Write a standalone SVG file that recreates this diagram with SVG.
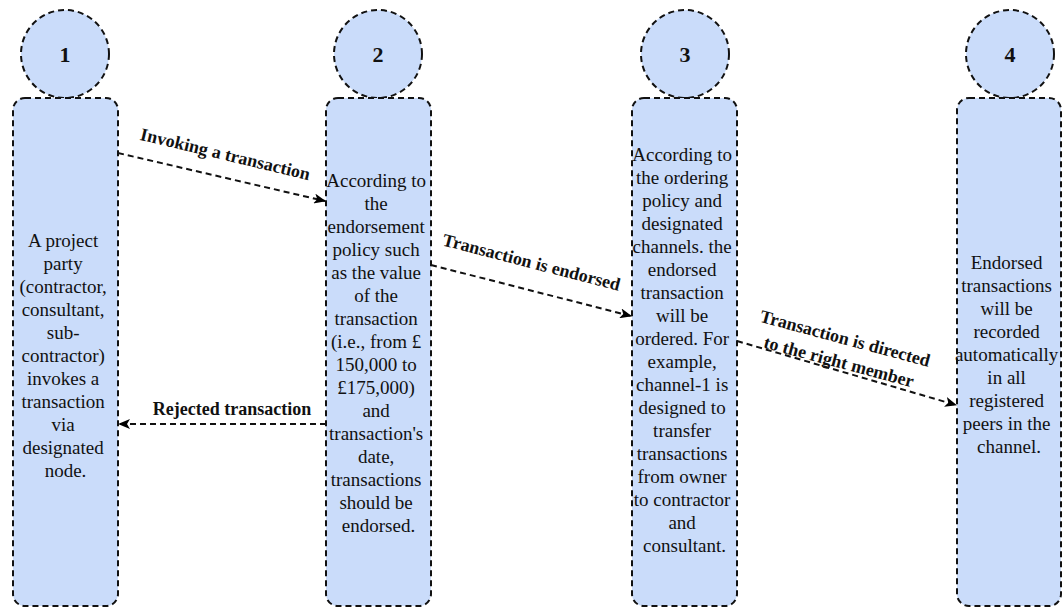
<svg xmlns="http://www.w3.org/2000/svg" width="1062" height="609" viewBox="0 0 1062 609">
  <defs>
    <marker id="arrow" viewBox="0 0 12 10" refX="11" refY="5" markerWidth="12" markerHeight="10" markerUnits="userSpaceOnUse" orient="auto">
      <path d="M0,0 L12,5 L0,10 L3,5 Z" fill="#000"/>
    </marker>
    <style>
      .head, .body { fill: #cadcfa; stroke: #111; stroke-width: 2; stroke-dasharray: 6 4; }
      .num { font-family: 'Liberation Serif', 'DejaVu Serif', serif; font-weight: bold; font-size: 22px; text-anchor: middle; fill: #111; }
      .txt { font-family: 'Liberation Serif', 'DejaVu Serif', serif; font-size: 19px; text-anchor: middle; fill: #111; }
      .edge { fill: none; stroke: #111; stroke-width: 2; stroke-dasharray: 6 4; }
      .lbl { font-family: 'Liberation Serif', 'DejaVu Serif', serif; font-weight: bold; font-size: 18px; text-anchor: middle; fill: #111; }
    </style>
  </defs>
  <rect width="1062" height="609" fill="#fff"/>

  <!-- Participant 1 -->
  <g id="node1">
    <circle class="head" cx="65" cy="54" r="44"/>
    <text class="num" x="65" y="62" font-family="Liberation Serif">1</text>
    <rect class="body" x="13" y="98" width="105" height="508" rx="12"/>
    <text class="txt" y="247" font-family="Liberation Serif">
      <tspan x="65.5">A project</tspan>
      <tspan x="65.5" dy="23">party</tspan>
      <tspan x="65.5" dy="23">(contractor,</tspan>
      <tspan x="65.5" dy="23">consultant,</tspan>
      <tspan x="65.5" dy="23">sub-</tspan>
      <tspan x="65.5" dy="23">contractor)</tspan>
      <tspan x="65.5" dy="23">invokes a</tspan>
      <tspan x="65.5" dy="23">transaction</tspan>
      <tspan x="65.5" dy="23">via</tspan>
      <tspan x="65.5" dy="23">designated</tspan>
      <tspan x="65.5" dy="23">node.</tspan>
    </text>
  </g>

  <!-- Participant 2 -->
  <g id="node2">
    <circle class="head" cx="378" cy="54" r="44"/>
    <text class="num" x="378" y="62">2</text>
    <rect class="body" x="326" y="98" width="105" height="508" rx="12"/>
    <text class="txt" y="187">
      <tspan x="378.5">According to</tspan>
      <tspan x="378.5" dy="23">the</tspan>
      <tspan x="378.5" dy="23">endorsement</tspan>
      <tspan x="378.5" dy="23">policy such</tspan>
      <tspan x="378.5" dy="23">as the value</tspan>
      <tspan x="378.5" dy="23">of the</tspan>
      <tspan x="378.5" dy="23">transaction</tspan>
      <tspan x="378.5" dy="23">(i.e., from £</tspan>
      <tspan x="378.5" dy="23">150,000 to</tspan>
      <tspan x="378.5" dy="23">£175,000)</tspan>
      <tspan x="378.5" dy="23">and</tspan>
      <tspan x="378.5" dy="23">transaction's</tspan>
      <tspan x="378.5" dy="23">date,</tspan>
      <tspan x="378.5" dy="23">transactions</tspan>
      <tspan x="378.5" dy="23">should be</tspan>
      <tspan x="378.5" dy="23">endorsed.</tspan>
    </text>
  </g>

  <!-- Participant 3 -->
  <g id="node3">
    <circle class="head" cx="685" cy="54" r="44"/>
    <text class="num" x="685" y="62">3</text>
    <rect class="body" x="632" y="98" width="105" height="508" rx="12"/>
    <text class="txt" y="161">
      <tspan x="684.5">According to</tspan>
      <tspan x="684.5" dy="23">the ordering</tspan>
      <tspan x="684.5" dy="23">policy and</tspan>
      <tspan x="684.5" dy="23">designated</tspan>
      <tspan x="684.5" dy="23">channels. the</tspan>
      <tspan x="684.5" dy="23">endorsed</tspan>
      <tspan x="684.5" dy="23">transaction</tspan>
      <tspan x="684.5" dy="23">will be</tspan>
      <tspan x="684.5" dy="23">ordered. For</tspan>
      <tspan x="684.5" dy="23">example,</tspan>
      <tspan x="684.5" dy="23">channel-1 is</tspan>
      <tspan x="684.5" dy="23">designed to</tspan>
      <tspan x="684.5" dy="23">transfer</tspan>
      <tspan x="684.5" dy="23">transactions</tspan>
      <tspan x="684.5" dy="23">from owner</tspan>
      <tspan x="684.5" dy="23">to contractor</tspan>
      <tspan x="684.5" dy="23">and</tspan>
      <tspan x="684.5" dy="23">consultant.</tspan>
    </text>
  </g>

  <!-- Participant 4 -->
  <g id="node4">
    <circle class="head" cx="1010" cy="54" r="44"/>
    <text class="num" x="1010" y="62">4</text>
    <rect class="body" x="957" y="98" width="104" height="508" rx="12"/>
    <text class="txt" y="269">
      <tspan x="1009">Endorsed</tspan>
      <tspan x="1009" dy="23">transactions</tspan>
      <tspan x="1009" dy="23">will be</tspan>
      <tspan x="1009" dy="23">recorded</tspan>
      <tspan x="1009" dy="23">automatically</tspan>
      <tspan x="1009" dy="23">in all</tspan>
      <tspan x="1009" dy="23">registered</tspan>
      <tspan x="1009" dy="23">peers in the</tspan>
      <tspan x="1009" dy="23">channel.</tspan>
    </text>
  </g>

  <!-- Message connectors -->
  <g id="connectors">
    <path class="edge" d="M118,153 L325,201" marker-end="url(#arrow)"/>
    <text class="lbl" x="224" y="160" transform="rotate(13.5 224 160)">Invoking a transaction</text>

    <path class="edge" d="M431,265 L631,316" marker-end="url(#arrow)"/>
    <text class="lbl" x="530" y="268" transform="rotate(14.5 530 268)">Transaction is endorsed</text>

    <path class="edge" d="M737,341 L956,405" marker-end="url(#arrow)"/>
    <g transform="translate(842,350) rotate(15)">
      <text class="lbl" x="0" y="-6">Transaction is directed</text>
      <text class="lbl" x="0" y="18">to the right member</text>
    </g>

    <path class="edge" d="M326,424 L119,424" marker-end="url(#arrow)"/>
    <text class="lbl" x="232" y="415">Rejected transaction</text>
  </g>
</svg>
